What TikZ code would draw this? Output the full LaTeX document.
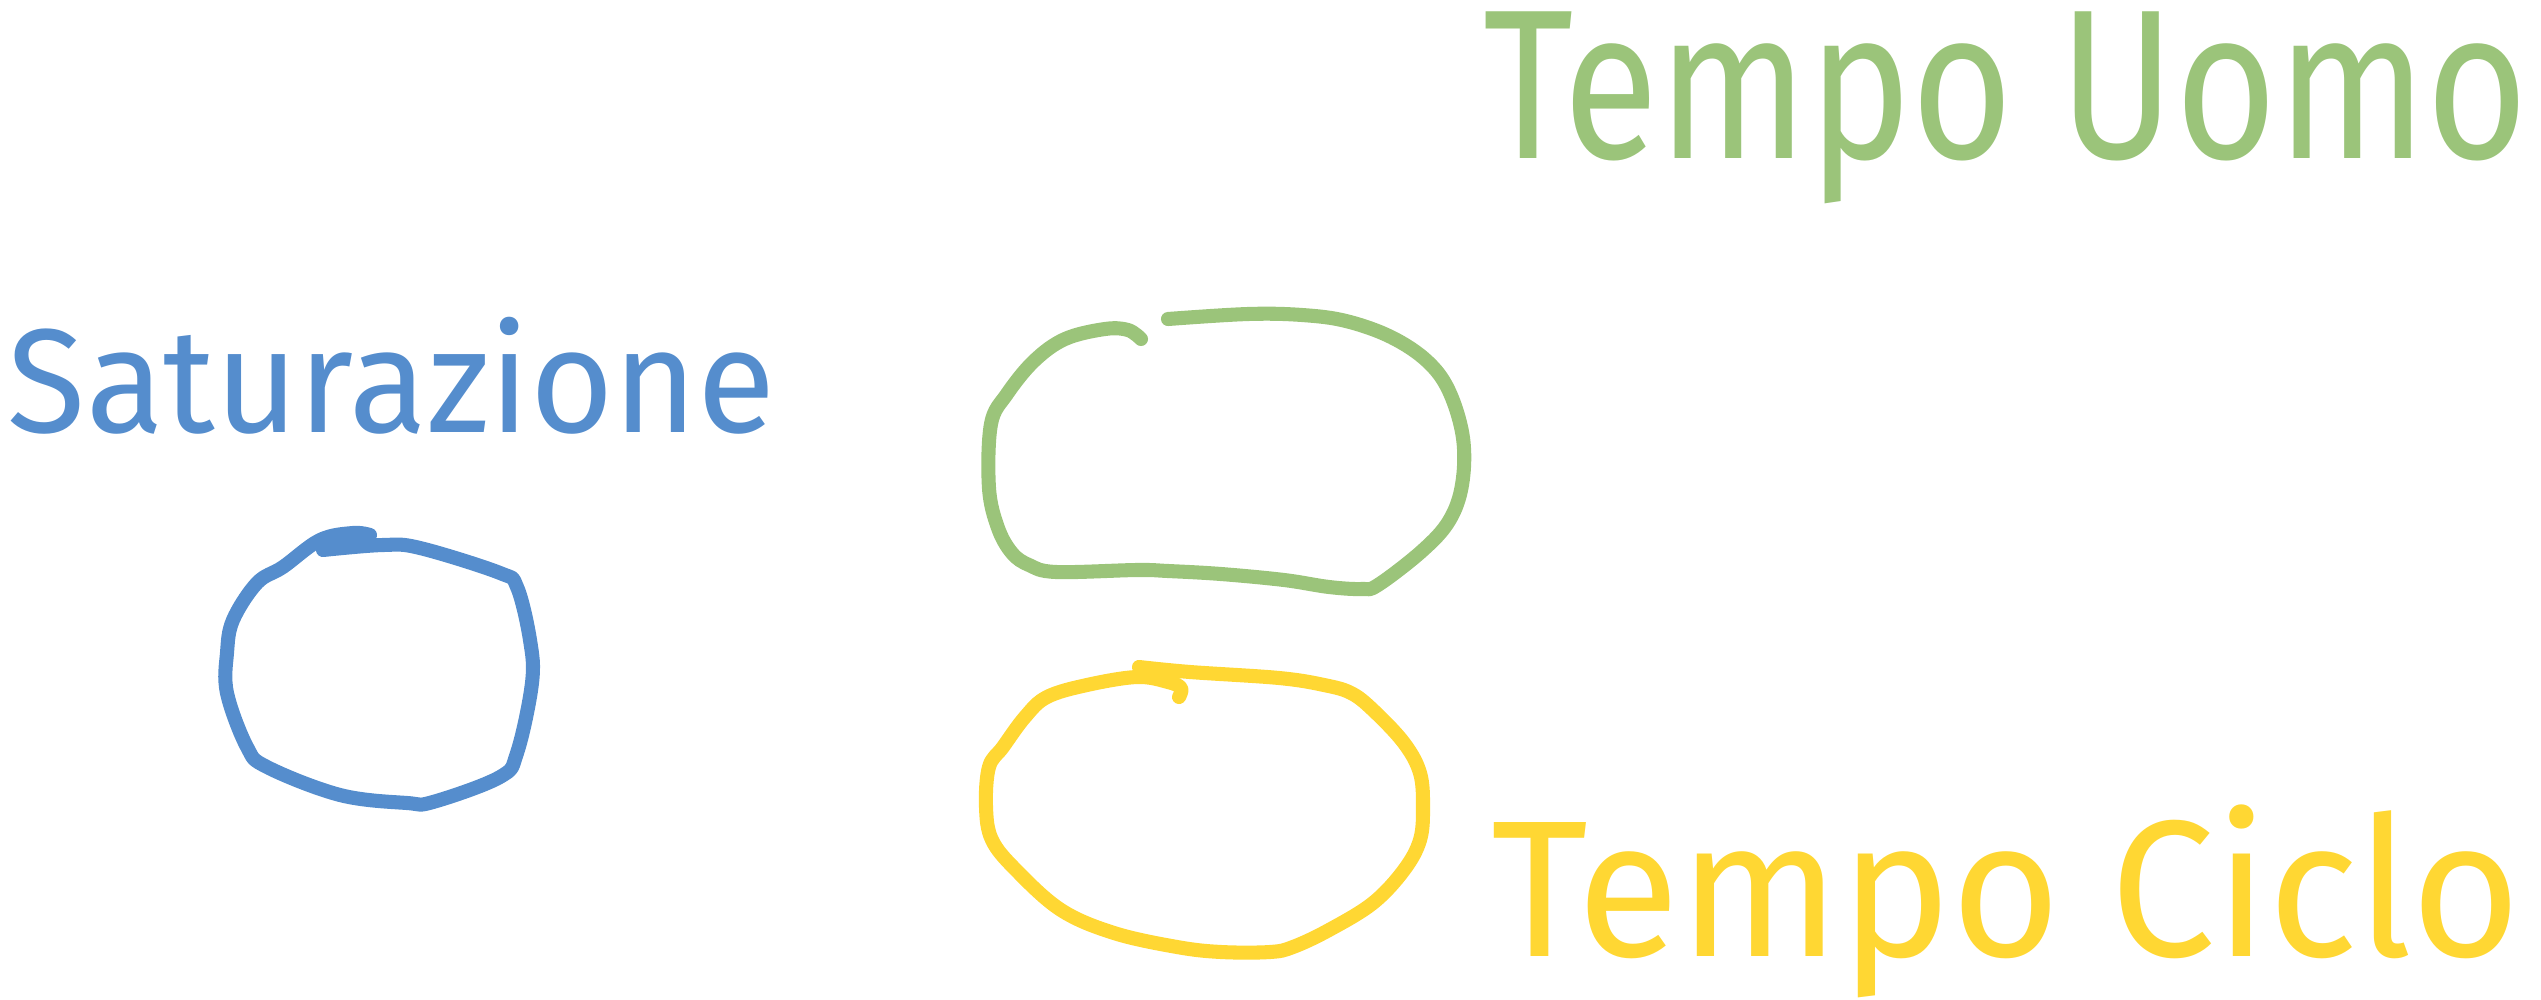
\documentclass[tikz,border=0pt]{standalone}
\usepackage{fontspec}
\usepackage{graphicx}
\setmainfont{Fira Sans}
\definecolor{sgreen}{HTML}{9BC47A}
\definecolor{syellow}{HTML}{FFD733}
\definecolor{sblue}{HTML}{558DCD}
\tikzset{
  sketch/.style={line width=4pt, line cap=round, line join=round},
  label/.style={anchor=north west, inner sep=0pt, outer sep=0pt}
}
\begin{document}
\begin{tikzpicture}[x=0.01cm, y=-0.01cm]
\useasboundingbox (0,0) rectangle (2541,1000);

% Green blob
\draw[sketch, sgreen] plot[smooth, tension=0.6] coordinates {
 (1168,319) (1248,314) (1302,315) (1346,321) (1391,337) (1427,361) (1449,391)
 (1463,438) (1462,485) (1449,521) (1422,551) (1378,585) (1362,589) (1329,587)
 (1284,580) (1221,574) (1168,571) (1137,570) (1056,572) (1029,565) (1012,553)
 (998,528) (989,488) (991,424) (1007,394) (1034,361) (1065,339) (1105,329)
 (1128,330) (1141,339)};

% Yellow blob
\draw[sketch, syellow] plot[smooth, tension=0.6] coordinates {
 (1139,667) (1190,672) (1279,678) (1324,685) (1351,693) (1373,710) (1404,743)
 (1420,773) (1423,807) (1420,840) (1404,870) (1373,903) (1329,930) (1293,947)
 (1270,952) (1221,952) (1177,947) (1114,933) (1061,910) (1016,870) (992,840)
 (986,807) (989,767) (1003,747) (1025,717) (1047,697) (1087,685) (1137,677)
 (1168,682) (1181,688) (1179,697)};

% Blue blob
\draw[sketch, sblue] plot[smooth, tension=0.6] coordinates {
 (323,550) (383,545) (420,548) (500,573) (517,587) (530,640) (532,683)
 (517,753) (500,777) (433,802) (407,803) (340,795) (267,767) (247,747)
 (227,693) (227,653) (233,620) (257,583) (283,567) (320,540) (353,533) (370,535)};

% Labels
\node[label, text=sgreen] (uomo) at (1483,12) {\resizebox*{10.45cm}{1.92cm}{Tempo Uomo}};
\node[label, text=syellow] (ciclo) at (1491,805) {\resizebox*{10.29cm}{1.93cm}{Tempo Ciclo}};
\node[label, text=sblue] (satur) at (8,317) {\resizebox*{7.67cm}{1.17cm}{Saturazione}};
\end{tikzpicture}
\end{document}
